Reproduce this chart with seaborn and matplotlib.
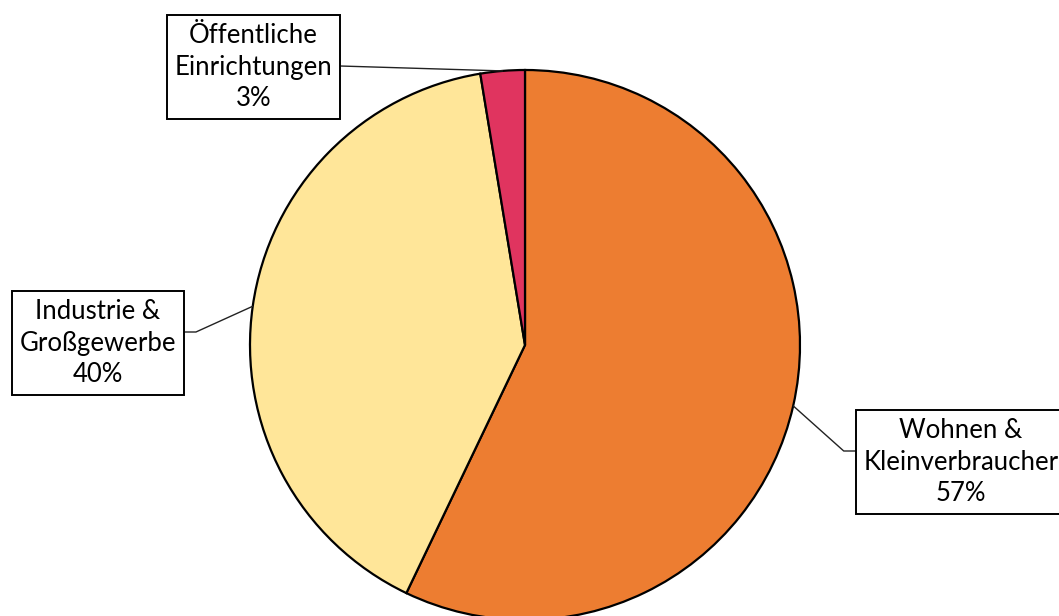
import numpy as np
import matplotlib
matplotlib.use("Agg")
import matplotlib.pyplot as plt
import seaborn as sns

categories = ["Wohnen &\nKleinverbraucher", "Industrie &\nGroßgewerbe", "Öffentliche\nEinrichtungen"]
values = [57.1, 40.3, 2.6]
colors = ["#ED7D31", "#FFE699", "#E0345F"]
# label box centres (pixel coords, y measured from top)
label_pos = [(961, 462), (98, 343), (253.5, 67)]

sns.set_theme(style="white")
plt.rcParams["font.family"] = ["Lato", "DejaVu Sans"]

W, H = 1059, 616
fig = plt.figure(figsize=(W / 100, H / 100), dpi=100)
ax = fig.add_axes([0, 0, 1, 1])

cx, cy, R = 525, H - 345, 275
wedges, _ = ax.pie(values, colors=colors, startangle=90, counterclock=False,
                   center=(cx, cy), radius=R, frame=True,
                   wedgeprops=dict(edgecolor="black", linewidth=1.6))
ax.set_xlim(0, W)
ax.set_ylim(0, H)
ax.set_aspect("equal")
ax.axis("off")

total = sum(values)
for w, cat, v, (lx, ly) in zip(wedges, categories, values, label_pos):
    mid = np.deg2rad((w.theta1 + w.theta2) / 2)
    ex, ey = cx + R * np.cos(mid), cy + R * np.sin(mid)
    ty = H - ly
    txt = ax.text(lx, ty, f"{cat}\n{v / total * 100:.0f}%", ha="center", va="center",
                  fontsize=18.5, linespacing=1.34, color="black",
                  bbox=dict(boxstyle="square,pad=0.3", facecolor="white",
                            edgecolor="black", linewidth=1.4), zorder=5)
    fig.canvas.draw()
    bb = txt.get_bbox_patch().get_window_extent()
    if lx > cx:
        bx = bb.x0
        elbow = bx - 12
    else:
        bx = bb.x1
        elbow = bx + 12
    ly_line = ty + 11
    if abs(np.cos(mid)) < 0.3:
        ax.plot([bx, ex], [ty + 1, ey], color="#222222", lw=1.0, zorder=4)
    else:
        ax.plot([bx, elbow, ex], [ly_line, ly_line, ey], color="#222222", lw=1.0, zorder=4)

fig.savefig("out.png", dpi=100)
